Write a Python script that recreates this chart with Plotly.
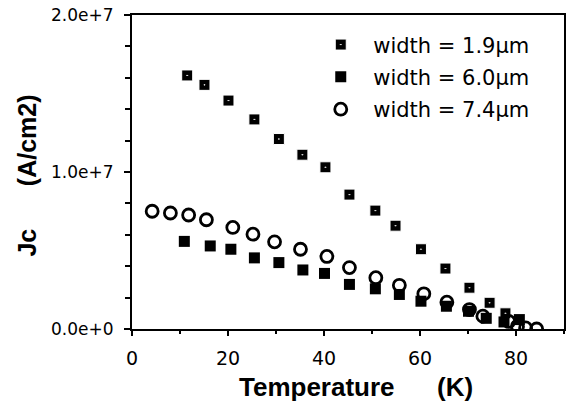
import plotly.graph_objects as go

# Temperature (K) and Jc (A/cm2)
t_19 = [11.5, 15.1, 20.1, 25.5, 30.6, 35.5, 40.3, 45.3, 50.7, 54.9, 60.2, 65.3, 70.3, 74.5, 77.8]
jc_19 = [16.15e6, 15.55e6, 14.55e6, 13.35e6, 12.1e6, 11.1e6, 10.3e6, 8.56e6, 7.54e6, 6.58e6,
         5.08e6, 3.85e6, 2.63e6, 1.67e6, 1.0e6]

t_60 = [10.9, 16.3, 20.6, 25.5, 30.6, 35.6, 40.1, 45.3, 50.7, 55.7, 60.2, 65.5, 70.1, 73.8, 77.5, 80.7]
jc_60 = [5.58e6, 5.29e6, 5.08e6, 4.53e6, 4.23e6, 3.76e6, 3.54e6, 2.84e6, 2.56e6, 2.2e6,
         1.77e6, 1.45e6, 1.13e6, 0.68e6, 0.45e6, 0.6e6]

t_74 = [4.2, 8.0, 11.8, 15.5, 21.0, 25.2, 29.7, 35.1, 40.6, 45.3, 50.8, 55.7, 60.8, 65.6,
        70.3, 73.1, 78.5, 80.3, 82.0, 84.3]
jc_74 = [7.5e6, 7.39e6, 7.26e6, 6.96e6, 6.47e6, 6.04e6, 5.55e6, 5.08e6, 4.62e6, 3.91e6,
         3.27e6, 2.78e6, 2.24e6, 1.71e6, 1.24e6, 0.82e6, 0.48e6, 0.17e6, 0.07e6, 0.0]

series_names = ["width = 1.9µm", "width = 6.0µm", "width = 7.4µm"]

x_tickvals = [0, 20, 40, 60, 80]
x_ticktext = ["0", "20", "40", "60", "80"]
y_tickvals = [0, 1e7, 2e7]
y_ticktext = ["0.0e+0", "1.0e+7", "2.0e+7"]

TICKFONT = "DejaVu Sans, Verdana, sans-serif"
FONT = "Liberation Sans, Arial, Helvetica, sans-serif"

fig = go.Figure()
fig.add_trace(go.Scatter(
    x=t_19, y=jc_19, mode="markers", name=series_names[0], legendgroup="a",
    marker=dict(symbol="square-dot", size=11, color="black", line=dict(width=1, color="white"))))
fig.add_trace(go.Scatter(
    x=t_60, y=jc_60, mode="markers", name=series_names[1], legendgroup="b",
    marker=dict(symbol="square", size=11, color="black", line=dict(width=0))))
fig.add_trace(go.Scatter(
    x=t_74, y=jc_74, mode="markers", name=series_names[2], legendgroup="c",
    marker=dict(symbol="circle-open", size=12, color="black", line=dict(width=2.8, color="black"))))

fig.update_layout(
    width=571, height=406,
    margin=dict(l=132, r=5, t=15, b=77),
    paper_bgcolor="white", plot_bgcolor="white",
    font=dict(family=TICKFONT, size=18, color="black"),
    showlegend=True,
    legend=dict(x=0.408, y=0.97, xanchor="left", yanchor="top",
                bgcolor="rgba(0,0,0,0)", borderwidth=0, itemwidth=55,
                font=dict(family=TICKFONT, size=21, color="black"),
                tracegroupgap=2),
    xaxis=dict(range=[0, 90], showgrid=False, zeroline=False,
               showline=True, linecolor="black", linewidth=2, mirror=True,
               ticks="outside", ticklen=5, tickwidth=2, tickcolor="black",
               tickvals=x_tickvals, ticktext=x_ticktext, ticklabelstandoff=6,
               minor=dict(dtick=10, tick0=0, ticks="outside", ticklen=3, tickwidth=2, tickcolor="black"),
               tickfont=dict(family=TICKFONT, size=19)),
    yaxis=dict(range=[0, 2e7], showgrid=False, zeroline=False,
               showline=True, linecolor="black", linewidth=2, mirror=True,
               ticks="outside", ticklen=6, tickwidth=2, tickcolor="black",
               tickvals=y_tickvals, ticktext=y_ticktext, ticklabelstandoff=7,
               minor=dict(dtick=2e6, tick0=0, ticks="outside", ticklen=5, tickwidth=2, tickcolor="black"),
               tickfont=dict(family=TICKFONT, size=17)),
    annotations=[
        dict(text="<b>Temperature</b>", xref="paper", yref="paper",
             x=0.429, y=-0.185, xanchor="center", yanchor="middle", showarrow=False,
             font=dict(family=FONT, size=26, color="black")),
        dict(text="<b>(K)</b>", xref="paper", yref="paper",
             x=0.747, y=-0.185, xanchor="center", yanchor="middle", showarrow=False,
             font=dict(family=FONT, size=26, color="black")),
        dict(text="<b>Jc</b>", xref="paper", yref="paper",
             x=-0.244, y=0.274, xanchor="center", yanchor="middle", showarrow=False, textangle=-90,
             font=dict(family=FONT, size=25, color="black")),
        dict(text="<b>(A/cm2)</b>", xref="paper", yref="paper",
             x=-0.244, y=0.60, xanchor="center", yanchor="middle", showarrow=False, textangle=-90,
             font=dict(family=FONT, size=25, color="black")),
    ],
)

# remove the default 8px page margin so the 571x406 figure fills the window exactly
fig.write_html("out.html", config={"displayModeBar": False},
               post_script="document.body.style.margin='0';")
